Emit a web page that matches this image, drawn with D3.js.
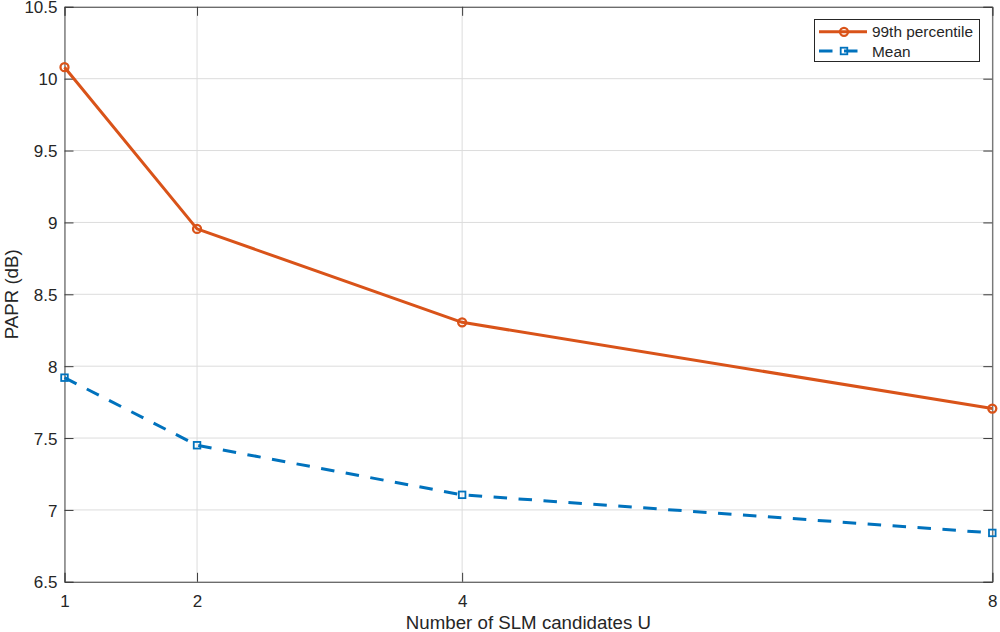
<!DOCTYPE html>
<html>
<head>
<meta charset="utf-8">
<script src="https://cdn.jsdelivr.net/npm/d3@7/dist/d3.min.js"></script>
<style>
  html, body { margin: 0; padding: 0; background: #fff; }
  svg { display: block; }
  text { font-family: "Liberation Sans", Arial, Helvetica, sans-serif; fill: #262626; }
</style>
</head>
<body>
<svg id="chart" width="1000" height="632"></svg>
<script>
// ---- Data ----
const candidates = [1, 2, 4, 8];
const p99 = [10.08, 8.955, 8.305, 7.705];
const meanVals = [7.92, 7.45, 7.105, 6.84];
const xTicks = [1, 2, 4, 8];
const yTicks = [6.5, 7, 7.5, 8, 8.5, 9, 9.5, 10, 10.5];
const seriesNames = ["99th percentile", "Mean"];
const xLabel = "Number of SLM candidates U";
const yLabel = "PAPR (dB)";

// ---- Layout ----
const W = 1000, H = 632;
const L = 64.5, R = 992.3, T = 6.8, B = 581.8;
const orange = "#D95319", blue = "#0072BD";
const axisCol = "#262626";
const tickLen = 9;

const svg = d3.select("#chart");
const x = d3.scaleLinear().domain([1, 8]).range([L, R]);
const y = d3.scaleLinear().domain([6.5, 10.5]).range([B, T]);

// grid
const grid = svg.append("g");
grid.selectAll("line.gx").data(xTicks).enter().append("line")
  .attr("x1", d => x(d)).attr("x2", d => x(d)).attr("y1", T).attr("y2", B)
  .attr("stroke", "#dcdcdc").attr("stroke-width", 1);
grid.selectAll("line.gy").data(yTicks).enter().append("line")
  .attr("y1", d => y(d)).attr("y2", d => y(d)).attr("x1", L).attr("x2", R)
  .attr("stroke", "#dcdcdc").attr("stroke-width", 1);

// axes with d3 axes (inner ticks)
const fmt = d => String(d);
const axB = svg.append("g").attr("transform", `translate(0,${B})`)
  .call(d3.axisBottom(x).tickValues(xTicks).tickSize(-tickLen).tickPadding(0).tickFormat(fmt));
const axT = svg.append("g").attr("transform", `translate(0,${T})`)
  .call(d3.axisTop(x).tickValues(xTicks).tickSize(-tickLen).tickFormat(""));
const axL = svg.append("g").attr("transform", `translate(${L},0)`)
  .call(d3.axisLeft(y).tickValues(yTicks).tickSize(-tickLen).tickPadding(0).tickFormat(fmt));
const axR = svg.append("g").attr("transform", `translate(${R},0)`)
  .call(d3.axisRight(y).tickValues(yTicks).tickSize(-tickLen).tickFormat(""));

[axB, axT, axL, axR].forEach(a => {
  a.select(".domain").attr("stroke", "#4a4a4a").attr("stroke-width", 1);
  a.selectAll(".tick line").attr("stroke", "#3a3a3a").attr("stroke-width", 1);
  a.selectAll("text").attr("font-family", null).attr("font-size", 17).attr("fill", axisCol);
});
axB.selectAll(".tick text").attr("y", 0).attr("dy", null).attr("transform", "translate(0,25.5)");
axL.selectAll(".tick text").attr("x", -7).attr("dy", "0.36em");

// lines
const line = d3.line().x((d, i) => x(candidates[i])).y(d => y(d));

svg.append("path").datum(p99)
  .attr("d", line).attr("fill", "none").attr("stroke", orange)
  .attr("stroke-width", 3).attr("stroke-linejoin", "round");
svg.append("path").datum(meanVals)
  .attr("d", line).attr("fill", "none").attr("stroke", blue)
  .attr("stroke-width", 3).attr("stroke-dasharray", "13.5,11.5");

// markers
svg.selectAll("circle.m99").data(p99).enter().append("circle")
  .attr("cx", (d, i) => x(candidates[i])).attr("cy", d => y(d)).attr("r", 4)
  .attr("fill", "none").attr("stroke", orange).attr("stroke-width", 2.3);
const sq = 6.6;
svg.selectAll("rect.mmean").data(meanVals).enter().append("rect")
  .attr("x", (d, i) => x(candidates[i]) - sq / 2).attr("y", d => y(d) - sq / 2)
  .attr("width", sq).attr("height", sq)
  .attr("fill", "none").attr("stroke", blue).attr("stroke-width", 1.8);

// axis labels
svg.append("text").attr("x", (L + R) / 2).attr("y", 629)
  .attr("text-anchor", "middle").attr("font-size", 18.7).text(xLabel);
svg.append("text").attr("transform", `translate(18,${(T + B) / 2}) rotate(-90)`)
  .attr("text-anchor", "middle").attr("font-size", 18.7).text(yLabel);

// legend
const lg = svg.append("g");
lg.append("rect").attr("x", 814.5).attr("y", 19.5).attr("width", 165).attr("height", 42)
  .attr("fill", "#fff").attr("stroke", "#262626").attr("stroke-width", 1);
const rows = [
  { name: seriesNames[0], color: orange, dash: null, y: 31.8, marker: "circle" },
  { name: seriesNames[1], color: blue, dash: "13.5,11.5", y: 51, marker: "square" }
];
rows.forEach(r => {
  lg.append("line").attr("x1", 819).attr("x2", 867).attr("y1", r.y).attr("y2", r.y)
    .attr("stroke", r.color).attr("stroke-width", 3).attr("stroke-dasharray", r.dash);
  if (r.marker === "circle") {
    lg.append("circle").attr("cx", 844).attr("cy", r.y).attr("r", 4)
      .attr("fill", "none").attr("stroke", r.color).attr("stroke-width", 2.3);
  } else {
    lg.append("rect").attr("x", 844 - sq / 2).attr("y", r.y - sq / 2).attr("width", sq).attr("height", sq)
      .attr("fill", "none").attr("stroke", r.color).attr("stroke-width", 1.8);
  }
  lg.append("text").attr("x", 872).attr("y", r.y).attr("dy", "0.36em")
    .attr("font-size", 15.4).text(r.name);
});
</script>
</body>
</html>
